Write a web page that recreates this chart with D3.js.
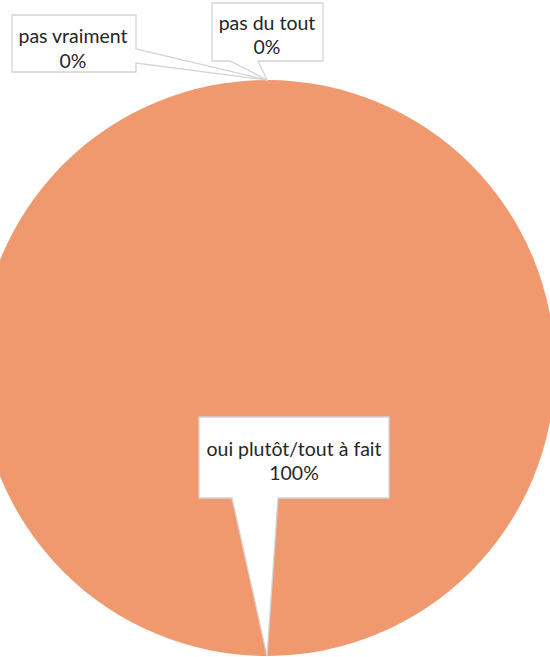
<!DOCTYPE html>
<html><head><meta charset="utf-8">
<script src="https://cdn.jsdelivr.net/npm/d3@7"></script>
<style>html,body{margin:0;padding:0;background:#fff;overflow:hidden}</style>
</head><body>
<svg id="chart" width="550" height="657"></svg>
<script>
const categories = ["oui plutôt/tout à fait", "pas vraiment", "pas du tout"];
const values = [100, 0, 0];
const labels = ["100%", "0%", "0%"];
const colors = ["#F0996F", "#F0996F", "#F0996F"];

const svg = d3.select("#chart");
const cx = 267, cy = 368, r = 288;

const pie = d3.pie().sort(null).value(d => d.v);
const arcs = pie(categories.map((c, i) => ({c, v: values[i], l: labels[i], col: colors[i]})));
const arc = d3.arc().innerRadius(0).outerRadius(r);

const g = svg.append("g").attr("transform", `translate(${cx},${cy})`);
g.selectAll("path").data(arcs).join("path").attr("d", arc).attr("fill", d => d.data.col);

const layout = [
  {box: [199, 417, 389, 498], side: "bottom", base: [232, 278], tx: 294, ty: [448, 472]},
  {box: [12, 15, 136, 72], side: "right", base: [49, 63], tx: 73, ty: [35, 60]},
  {box: [212, 3, 323, 61], side: "bottom", base: [230, 258], tx: 267, ty: [22, 46]}
];

function tip(d) {
  const a = (d.startAngle + d.endAngle) / 2;
  return [cx + r * Math.sin(a), cy - r * Math.cos(a)];
}

[0, 1, 2].forEach(i => {
  const d = arcs[i], L = layout[i];
  const [x0, y0, x1, y1] = L.box;
  const [tx, ty] = tip(d);
  let p;
  if (L.side === "bottom") {
    p = `M${x0},${y0}H${x1}V${y1}H${L.base[1]}L${tx},${ty}L${L.base[0]},${y1}H${x0}Z`;
  } else {
    p = `M${x0},${y0}H${x1}V${L.base[0]}L${tx},${ty}L${x1},${L.base[1]}V${y1}H${x0}Z`;
  }
  svg.append("path").attr("d", p).attr("fill", "#fff").attr("stroke", "#d4d4d4").attr("stroke-width", 1.3);
  const t = svg.append("text").attr("text-anchor", "middle")
    .attr("font-family", "Lato, sans-serif").attr("font-size", 19.5).attr("fill", "#262626");
  t.append("tspan").attr("x", L.tx).attr("y", L.ty[0]).attr("dominant-baseline", "central").text(d.data.c);
  t.append("tspan").attr("x", L.tx).attr("y", L.ty[1]).attr("dominant-baseline", "central").text(d.data.l);
});
</script>
</body></html>
